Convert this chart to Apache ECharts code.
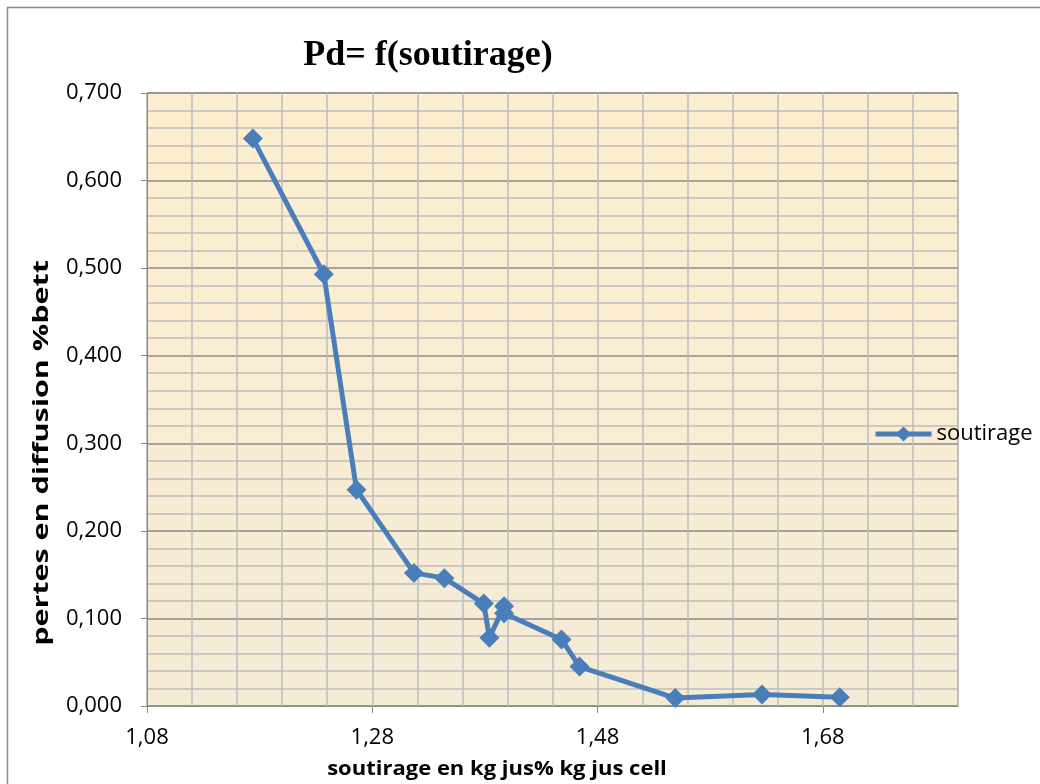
<!DOCTYPE html>
<html>
<head>
<meta charset="utf-8">
<script src="https://cdn.jsdelivr.net/npm/echarts@6/dist/echarts.min.js"></script>
<style>
html,body{margin:0;padding:0;background:#fff}
#chart{width:1040px;height:784px}
</style>
</head>
<body>
<div id="chart"></div>
<script>
const $ = id => document.getElementById(id);

// soutirage (kg jus % kg jus cell) -> pertes en diffusion (%bett)
const soutirage = [1.174, 1.237, 1.266, 1.317, 1.344, 1.379, 1.384, 1.397, 1.397, 1.448, 1.464, 1.549, 1.626, 1.695];
const pertes    = [0.648, 0.493, 0.247, 0.152, 0.146, 0.117, 0.078, 0.114, 0.106, 0.076, 0.045, 0.009, 0.013, 0.010];
const xTicks = [1.08, 1.28, 1.48, 1.68];
const yTicks = [0, 0.1, 0.2, 0.3, 0.4, 0.5, 0.6, 0.7];

const blue = '#4a7ebb';
const font = '"Open Sans", "Noto Sans", sans-serif';
const gridC = '#bdbdbd', majorC = '#8a8a8a';
const fmtX = v => v.toFixed(2).replace('.', ',');
const fmtY = v => v.toFixed(3).replace('.', ',');

// hidden axes only used for the fine grid
const gridAxis = (min, max, interval, colors) => ({
  type: 'value', min, max, interval,
  axisLine: {show: false}, axisTick: {show: false}, axisLabel: {show: false},
  splitLine: {show: true, lineStyle: {color: colors, width: 1.5}}
});

const chart = echarts.init($('chart'), null, {renderer: 'canvas'});
chart.setOption({
  animation: false,
  backgroundColor: '#fff',
  legend: {
    left: 873, top: 423, padding: 0, itemWidth: 56, itemHeight: 19, itemGap: 4,
    lineStyle: {width: 5},
    textStyle: {fontFamily: font, fontSize: 22, color: '#000'},
    data: ['soutirage']
  },
  grid: {
    left: 147, right: 82, top: 93, bottom: 78, show: true,
    borderColor: majorC, borderWidth: 1,
    backgroundColor: {type: 'linear', x: 0, y: 0, x2: 0, y2: 1,
      colorStops: [{offset: 0, color: '#fdeecf'}, {offset: 1, color: '#f4ebd6'}]}
  },
  xAxis: [{
    type: 'value', min: 1.08, max: 1.80, interval: 0.04,
    axisLine: {lineStyle: {color: majorC}},
    axisTick: {customValues: xTicks, length: 7, lineStyle: {color: majorC}},
    axisLabel: {customValues: xTicks, formatter: fmtX, margin: 21, fontFamily: font, fontSize: 22, color: '#000'},
    splitLine: {show: false}
  }, gridAxis(1.08, 1.80, 0.04, gridC)],
  yAxis: [{
    type: 'value', min: 0, max: 0.7, interval: 0.02,
    axisLine: {show: true, lineStyle: {color: majorC}},
    axisTick: {show: true, customValues: yTicks, length: 6, lineStyle: {color: majorC}},
    axisLabel: {customValues: yTicks, formatter: fmtY, margin: 25, fontFamily: font, fontSize: 22, color: '#000'},
    splitLine: {show: false}
  }, gridAxis(0, 0.7, 0.02, [majorC, gridC, gridC, gridC, gridC])],
  graphic: [
    {type: 'rect', shape: {x: 7.5, y: 7.5, width: 1100, height: 900}, style: {fill: null, stroke: majorC, lineWidth: 1.5}, silent: true, z: -1},
    {type: 'text', x: 428, y: 56,
      style: {text: 'Pd= f(soutirage)', fontFamily: '"Liberation Serif", serif', fontWeight: 'bold', fontSize: 36, fill: '#000', align: 'center', verticalAlign: 'middle'}},
    {type: 'text', x: 42, y: 453, rotation: Math.PI / 2, scaleX: 1.45,
      style: {text: 'pertes en diffusion %bett', fontFamily: font, fontWeight: 'bold', fontSize: 21, fill: '#000', align: 'center', verticalAlign: 'middle'}},
    {type: 'text', x: 497, y: 769, scaleX: 1.1,
      style: {text: 'soutirage en kg jus% kg jus cell', fontFamily: font, fontWeight: 'bold', fontSize: 20, fill: '#000', align: 'center', verticalAlign: 'middle'}}
  ],
  series: [{
    name: 'soutirage', type: 'line',
    data: soutirage.map((x, i) => [x, pertes[i]]),
    symbol: 'diamond', symbolSize: 20,
    lineStyle: {color: blue, width: 5},
    itemStyle: {color: blue},
    z: 5
  }]
});
</script>
</body>
</html>
